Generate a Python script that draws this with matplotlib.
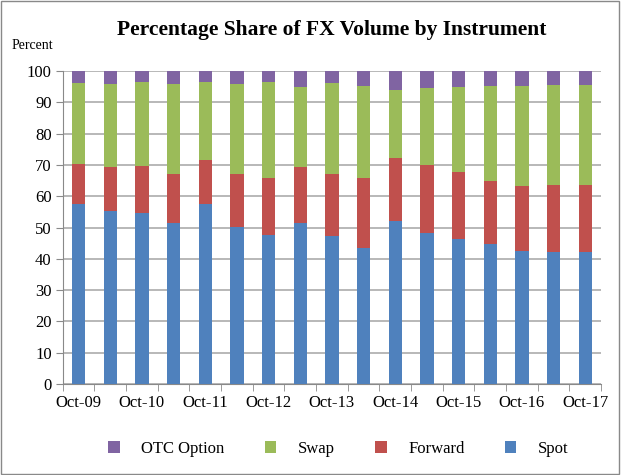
import matplotlib
matplotlib.use("Agg")
import matplotlib.pyplot as plt
import numpy as np
from matplotlib.patches import Rectangle

categories = ["Oct-09", "Apr-10", "Oct-10", "Apr-11", "Oct-11", "Apr-12", "Oct-12", "Apr-13",
              "Oct-13", "Apr-14", "Oct-14", "Apr-15", "Oct-15", "Apr-16", "Oct-16", "Apr-17", "Oct-17"]
spot = [57.6, 55.3, 54.6, 51.3, 57.6, 50.1, 47.7, 51.3, 47.4, 43.5, 52.0, 48.3, 46.3, 44.8, 42.4, 42.1, 42.1]
forward = [12.6, 13.9, 14.9, 15.9, 14.0, 17.1, 18.2, 17.9, 19.8, 22.4, 20.2, 21.6, 21.5, 20.1, 20.9, 21.5, 21.5]
swap = [26.1, 26.8, 27.1, 28.8, 25.0, 28.8, 30.7, 25.8, 29.1, 29.4, 21.8, 24.8, 27.2, 30.4, 32.0, 32.0, 32.0]
option = [3.7, 4.0, 3.4, 4.0, 3.4, 4.0, 3.4, 5.0, 3.7, 4.7, 6.0, 5.3, 5.0, 4.7, 4.7, 4.4, 4.4]
yticks = list(range(0, 101, 10))

plt.rcParams['font.family'] = ['Liberation Serif', 'DejaVu Serif']

fig = plt.figure(figsize=(6.21, 4.75), dpi=100)
ax = fig.add_axes([0.101, 0.1916, 0.867, 0.6589])

x = np.arange(len(categories))
w = 0.42
c_spot, c_fwd, c_swap, c_opt = "#4F81BD", "#C0504D", "#9BBB59", "#8064A2"
b1 = ax.bar(x, spot, w, color=c_spot, label="Spot", zorder=3)
b2 = ax.bar(x, forward, w, bottom=spot, color=c_fwd, label="Forward", zorder=3)
bot3 = np.array(spot) + np.array(forward)
b3 = ax.bar(x, swap, w, bottom=bot3, color=c_swap, label="Swap", zorder=3)
bot4 = bot3 + np.array(swap)
b4 = ax.bar(x, option, w, bottom=bot4, color=c_opt, label="OTC Option", zorder=3)

ax.set_xlim(-0.5, len(categories) - 0.5)
ax.set_ylim(0, 100)
ax.set_yticks(yticks)
ax.tick_params(axis='y', labelsize=12, length=5, color="#898989", pad=3)
ax.set_xticks(x[::2])
ax.set_xticklabels(categories[::2], fontsize=12)
ax.set_xticks(np.arange(-0.5, len(categories), 1), minor=True)
ax.tick_params(axis='x', which='major', length=0, pad=8)
ax.tick_params(axis='x', which='minor', length=5, color="#898989")
ax.yaxis.grid(True, color="#ABABAB", linewidth=1.2, zorder=0)
ax.set_axisbelow(True)
for s in ["top", "right"]:
    ax.spines[s].set_visible(False)
for s in ["left", "bottom"]:
    ax.spines[s].set_color("#898989")

fig.text(0.534, 0.937, "Percentage Share of FX Volume by Instrument", ha="center", va="center",
         fontsize=15.5, fontweight="bold")
fig.text(0.018, 0.905, "Percent", ha="left", va="center", fontsize=10)

leg = fig.legend(handles=[b4, b3, b2, b1], labels=["OTC Option", "Swap", "Forward", "Spot"],
                 loc="center", bbox_to_anchor=(0.545, 0.055), ncol=4, frameon=False,
                 fontsize=12, handlelength=0.7, handleheight=0.7, columnspacing=2.4, handletextpad=1.3)

fig.patches.append(Rectangle((0.002, 0.003), 0.994, 0.994, transform=fig.transFigure,
                             fill=False, edgecolor="#898989", linewidth=1))

fig.savefig("out.png", dpi=100)
